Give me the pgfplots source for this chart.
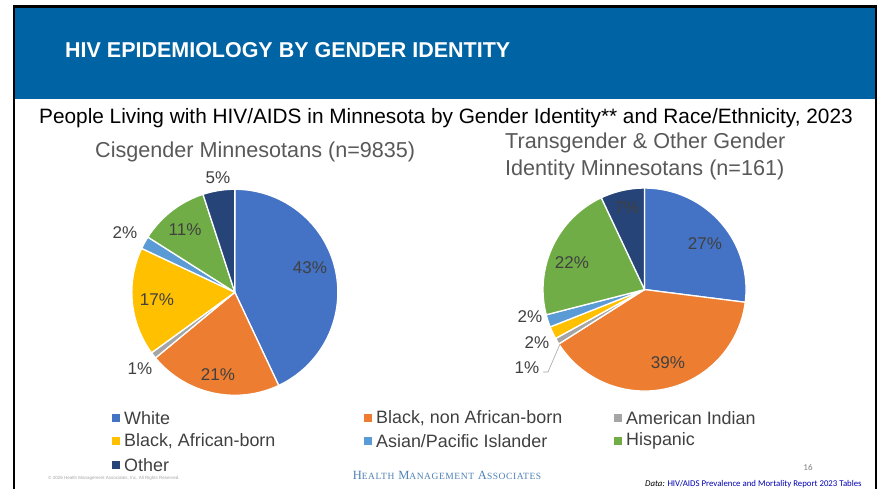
\documentclass[border=0pt]{standalone}
\usepackage{pgfplots}
\pgfplotsset{compat=1.18}
\usepackage{fontspec}
\setmainfont{Liberation Sans}
\newfontfamily\seriffont[LetterSpace=6]{Liberation Serif}
\newfontfamily\carlito{Carlito}
\definecolor{hdr}{HTML}{0063A3}
\definecolor{cWhite}{HTML}{4472C4}
\definecolor{cBlackNon}{HTML}{ED7D31}
\definecolor{cAmInd}{HTML}{A5A5A5}
\definecolor{cBlackAfr}{HTML}{FFC000}
\definecolor{cAsian}{HTML}{5B9BD5}
\definecolor{cHisp}{HTML}{70AD47}
\definecolor{cOther}{HTML}{264478}
\definecolor{lbl}{HTML}{404040}
\definecolor{sub}{HTML}{595959}
\definecolor{hma}{HTML}{4F81B5}
\newcommand\fs[1]{\fontsize{#1}{#1}\selectfont}
% running total of shares (percent)
\gdef\cum{0}
\newcommand\slice[2]{%
  \pgfmathsetmacro\sa{90-3.6*(\cum+#1)}%
  \pgfmathsetmacro\sb{90-3.6*\cum}%
  \pgfmathsetmacro\newcum{\cum+#1}\global\let\cum\newcum
  \edef\doit{\noexpand\addplot[fill=#2, draw=white, line width=1.3pt, line join=round, domain=\sa:\sb, samples=80] ({cos(x)},{sin(x)}) -- (axis cs:0,0) -- cycle;}%
  \doit}
\pgfplotsset{pie/.style={anchor=origin, scale only axis, hide axis, xmin=-1, xmax=1, ymin=-1, ymax=1, clip=false}}
\begin{document}
\begin{tikzpicture}[x=1pt,y=1pt]
\path[use as bounding box] (0,0) rectangle (877,489);
\fill[white] (0,0) rectangle (877,489);
\fill[hdr] (14,390) rectangle (876,482);
\draw[black, line width=2.5pt] (14,0) -- (14,482.5) -- (876,482.5) -- (876,0);
\node[anchor=west, text=white, inner sep=0pt] at (65,439) {\resizebox{445pt}{15pt}{\bfseries HIV EPIDEMIOLOGY BY GENDER IDENTITY}};
\node[anchor=center, inner sep=0pt] at (446,371) {\fs{20.8}People Living with HIV/AIDS in Minnesota by Gender Identity** and Race/Ethnicity, 2023};
\node[anchor=west, inner sep=0pt, text=sub] at (95,337) {\fs{21.6}Cisgender Minnesotans (n=9835)};
\node[anchor=west, inner sep=0pt, text=sub] at (505,346) {\fs{21.6}Transgender \& Other Gender};
\node[anchor=west, inner sep=0pt, text=sub] at (505,319) {\fs{21.6}Identity Minnesotans (n=161)};

% Cisgender pie
\gdef\cum{0}
\begin{axis}[pie, at={(228,191)}, width=206pt, height=206pt]
\slice{43}{cWhite}
\slice{21}{cBlackNon}
\slice{1}{cAmInd}
\slice{17}{cBlackAfr}
\slice{2}{cAsian}
\slice{11}{cHisp}
\slice{5}{cOther}
\end{axis}
% Transgender & other pie
\gdef\cum{0}
\begin{axis}[pie, at={(635,196.5)}, width=203pt, height=203pt]
\slice{27}{cWhite}
\slice{39}{cBlackNon}
\slice{1}{cAmInd}
\slice{2}{cBlackAfr}
\slice{2}{cAsian}
\slice{22}{cHisp}
\slice{7}{cOther}
\end{axis}

\begin{scope}[every node/.style={text=lbl, inner sep=0pt, font=\fs{17}}]
\node at (310,221) {43\%};
\node at (218,114) {21\%};
\node at (157,189) {17\%};
\node at (185,259) {11\%};
\node at (218,311) {5\%};
\node at (125,256) {2\%};
\node at (140,120) {1\%};
\node at (705,245) {27\%};
\node at (668,126) {39\%};
\node at (572,226) {22\%};
\node at (627,281) {7\%};
\node at (530,172) {2\%};
\node at (537,146) {2\%};
\node at (527,121) {1\%};
\end{scope}
\draw[cAmInd, line width=0.6pt] (543,117) -- (548,117) -- (560,145);

% legend
\begin{scope}[every node/.style={text=lbl, inner sep=0pt, anchor=west, font=\fs{17.9}}]
\foreach \c/\t/\x/\y in {cWhite/White/112/71, cBlackNon/{Black, non African-born}/364/71, cAmInd/American Indian/614/71,
  cBlackAfr/{Black, African-born}/112/48, cAsian/Asian\slash Pacific Islander/364/48, cHisp/Hispanic/614/48, cOther/Other/112/24}{
  \fill[\c] (\x,\y-4) rectangle ++(8,8);
  \node at (\x+12,\y) {\t};
}
\end{scope}

% footer
\node[text=hma, inner sep=0pt] at (447,14) {\seriffont\fs{12.5}H\fs{9.5}EALTH\fs{12.5} M\fs{9.5}ANAGEMENT\fs{12.5} A\fs{9.5}SSOCIATES};
\node[text=gray, inner sep=0pt] at (808,22) {\carlito\fs{9}16};
\node[anchor=west, inner sep=0pt] at (645,4) {\carlito\fs{8.8}\textit{Data:} \textcolor{blue!70!black}{\underline{HIV/AIDS Prevalence and Mortality Report 2023 Tables}}};
\node[anchor=west, inner sep=0pt, text=black!35] at (48,11) {\fs{4.5}\textcopyright\ 2026 Health Management Associates, Inc. All Rights Reserved.};
\end{tikzpicture}
\end{document}
